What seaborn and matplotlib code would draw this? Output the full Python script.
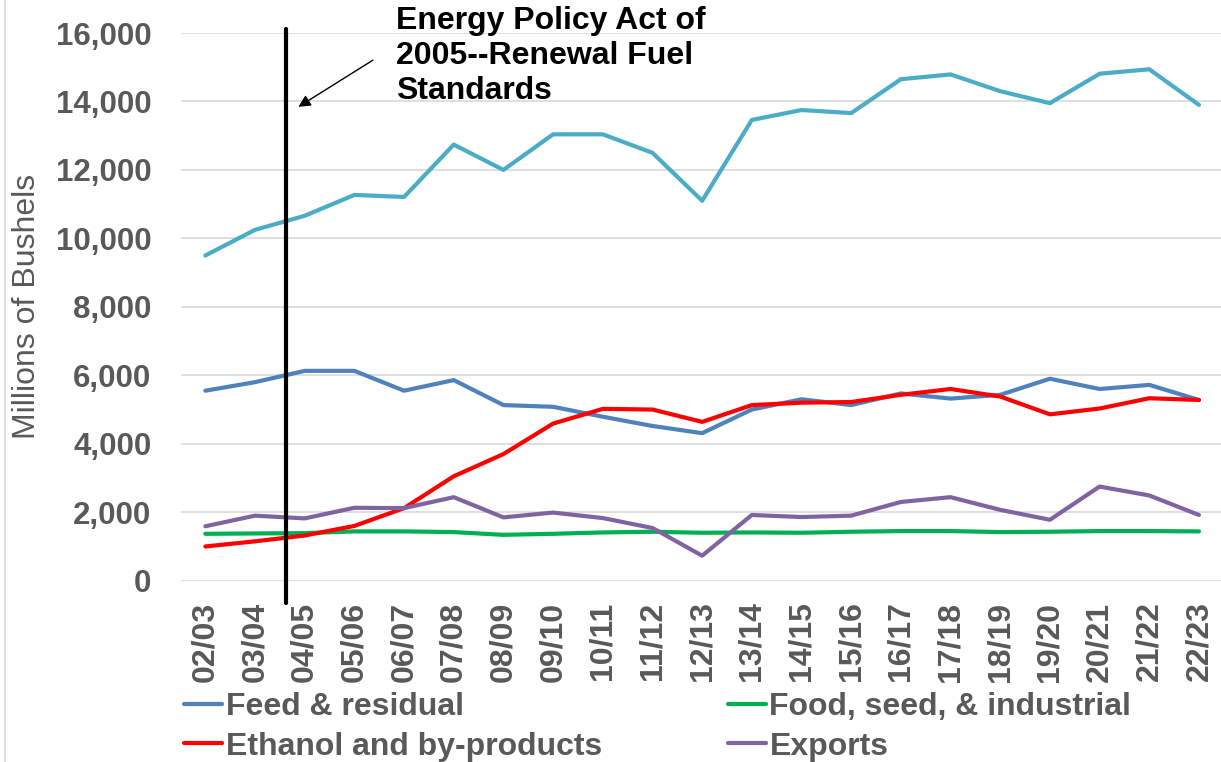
import numpy as np
import pandas as pd
import matplotlib
matplotlib.use("Agg")
import matplotlib.pyplot as plt
import seaborn as sns
from matplotlib.lines import Line2D

years = ["02/03", "03/04", "04/05", "05/06", "06/07", "07/08", "08/09", "09/10",
         "10/11", "11/12", "12/13", "13/14", "14/15", "15/16", "16/17", "17/18",
         "18/19", "19/20", "20/21", "21/22", "22/23"]
total = [9500, 10250, 10660, 11270, 11210, 12740, 12000, 13040, 13040, 12500,
         11100, 13460, 13750, 13660, 14650, 14790, 14300, 13950, 14810, 14940, 13900]
feed = [5550, 5800, 6130, 6130, 5550, 5860, 5130, 5080, 4790, 4520,
        4310, 5000, 5300, 5130, 5470, 5320, 5430, 5900, 5600, 5720, 5280]
ethanol = [1000, 1150, 1320, 1600, 2120, 3050, 3700, 4590, 5020, 5000,
           4640, 5130, 5200, 5220, 5430, 5600, 5380, 4860, 5030, 5330, 5280]
food = [1370, 1380, 1390, 1440, 1440, 1420, 1340, 1370, 1410, 1430,
        1400, 1410, 1400, 1430, 1450, 1450, 1420, 1430, 1450, 1450, 1440]
exports = [1590, 1900, 1820, 2130, 2120, 2440, 1850, 1990, 1830, 1540,
           730, 1920, 1860, 1900, 2300, 2440, 2070, 1780, 2750, 2490, 1920]

series_names = ["Total", "Feed & residual", "Food, seed, & industrial",
                "Ethanol and by-products", "Exports"]
series_values = [total, feed, food, ethanol, exports]
colors = {"Total": "#4BACC6", "Feed & residual": "#4F81BD",
          "Food, seed, & industrial": "#00B050",
          "Ethanol and by-products": "#FF0000", "Exports": "#8064A2"}
legend_order = ["Feed & residual", "Ethanol and by-products",
                "Food, seed, & industrial", "Exports"]

yticks = [0, 2000, 4000, 6000, 8000, 10000, 12000, 14000, 16000]
ytick_labels = ["0", "2,000", "4,000", "6,000", "8,000", "10,000", "12,000", "14,000", "16,000"]

annot_text = "Energy Policy Act of\n2005--Renewal Fuel\nStandards"

rows = []
for name, vals in zip(series_names, series_values):
    for y, v in zip(years, vals):
        rows.append({"year": y, "value": v, "series": name})
df = pd.DataFrame(rows)

sns.set_theme(style="white")
plt.rcParams["font.family"] = ["Liberation Sans", "DejaVu Sans"]

W, H = 1221, 762
fig = plt.figure(figsize=(W / 100, H / 100), dpi=100)
ax = fig.add_axes([180.5 / W, (H - 580.7) / H, (1223.8 - 180.5) / W, 547.7 / H])

sns.lineplot(data=df, x="year", y="value", hue="series", palette=colors,
             hue_order=series_names, sort=False, legend=False, linewidth=3,
             ax=ax)

ax.set_xlim(-0.5, len(years) - 0.5)
ax.set_ylim(0, 16000)
ax.set_yticks(yticks)
ax.set_yticklabels(ytick_labels)
ax.set_xticks(range(len(years)))
ax.set_xticklabels(years, rotation=90)
gray = "#595959"
ax.tick_params(axis="y", length=0, pad=21, labelsize=22.5, labelcolor=gray)
ax.tick_params(axis="x", length=0, pad=15, labelsize=23, labelcolor=gray)
for lab in ax.get_xticklabels() + ax.get_yticklabels():
    lab.set_fontweight("bold")
ax.set_xlabel("")
ax.set_ylabel("Millions of Bushels", fontsize=23, color=gray)
ax.yaxis.set_label_coords(-0.133, 0.5)
ax.grid(axis="y", color="#D9D9D9", linewidth=1.2)
ax.grid(axis="x", visible=False)
ax.set_axisbelow(True)
for s in ax.spines.values():
    s.set_visible(False)

# policy marker line
ax.axvline(1.616, ymin=-0.041, ymax=1.007, color="black", linewidth=3, clip_on=False)
ax.annotate("", xy=(1.825, 13800), xytext=(3.42, 15250),
            arrowprops=dict(arrowstyle="-|>", color="black", lw=1,
                            mutation_scale=18), annotation_clip=False)
ax.text(3.84, 16780, annot_text, fontsize=23, fontweight="bold", color="black",
        ha="left", va="top", linespacing=1.22, clip_on=False)

handles = [Line2D([0], [0], color=colors[n], lw=3) for n in legend_order]
leg = fig.legend(handles, legend_order, ncol=2, loc="upper left",
                 bbox_to_anchor=(184 / W, (H - 692) / H), frameon=False,
                 prop={"size": 23, "weight": "bold"}, handlelength=1.2,
                 handletextpad=0.1, columnspacing=3.95, labelspacing=0.3,
                 borderpad=0, borderaxespad=0, labelcolor=gray)

# chart-area border remnant on the left edge
fig.add_artist(Line2D([4.5 / W, 4.5 / W], [0, 1], transform=fig.transFigure,
                      color="#D9D9D9", linewidth=1.2))

fig.savefig("out.png", dpi=100)
